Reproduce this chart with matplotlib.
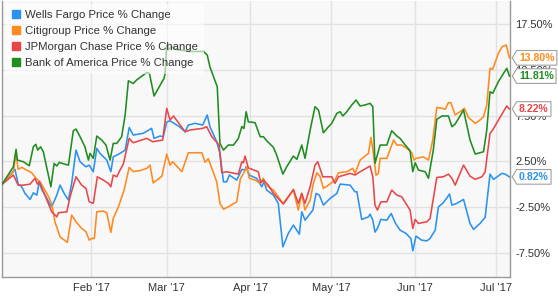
import numpy as np
import pandas as pd
import matplotlib
matplotlib.use("Agg")
import matplotlib.pyplot as plt
import matplotlib.dates as mdates
from matplotlib.path import Path
from matplotlib.lines import Line2D


# days counted from 2016-12-30, value = % price change
start_date = "2016-12-30"

wfc_days = [0, 3.0, 4.8, 6.0, 7.3, 8.5, 10.4, 11.6, 12.9, 13.8, 14.7, 16.6, 18.4, 20.3, 21.5, 23.0, 24.6, 25.8,
            27.4, 28.9, 31.1, 32.3, 33.8, 35.1, 36.3, 38.8, 40.3, 41.2, 43.7, 45.6, 47.1, 48.6, 52.3, 55.4,
            56.3, 58.5, 59.7, 61.0, 62.2, 65.7, 67.8, 69.0, 71.5, 74.3, 76.0, 77.0, 79.5, 80.7, 82.0, 83.2,
            84.2, 86.9, 88.8, 90.0, 90.4, 91.6, 94.3, 96.2, 97.0, 98.0, 100.5, 102.3, 104.0, 106.0, 107.9,
            110.1, 111.0, 112.2, 115.1, 116.3, 117.5, 119.0, 121.5, 124.0, 125.2, 128.9, 130.7, 131.4, 133.2,
            135.7, 136.3, 137.3, 138.1, 139.0, 140.3, 142.5, 144.1, 145.6, 147.4, 149.6, 151.4, 152.1, 153.3,
            155.4, 157.3, 158.5, 160.4, 161.6, 163.4, 165.7, 166.6, 168.4, 170.9, 173.3, 174.6, 177.0, 178.9,
            180.7, 182.0, 185.1, 186.3, 187.9]
wfc_pct = [0, 1.02, 1.64, 0.03, -0.26, -0.98, -1.64, -0.92, -1.17, 0.28, -0.55, -1.53, -2.45, -1.17, -0.08,
           -0.98, -1.71, 0.11, 3.74, 2.47, 1.92, 2.10, 1.38, 3.93, 3.38, 2.65, 1.38, 3.00, 3.38, 3.74, 6.20,
           5.38, 5.57, 6.11, 5.02, 5.27, 5.20, 6.80, 6.94, 6.29, 5.74, 6.47, 6.66, 6.47, 7.57, 6.29, 4.65,
           3.38, 0.28, 0.28, 1.02, 0.47, 1.64, 1.56, 1.92, 1.00, 0.66, -0.26, 0.28, -0.62, -1.17, -2.07,
           -6.81, -5.35, -4.44, -5.43, -2.99, -3.90, -2.81, -0.98, -1.17, -2.26, -1.53, -0.98, 0.03, -0.08,
           -0.81, -0.81, -3.82, -3.54, -3.24, -3.90, -5.20, -4.80, -3.82, -3.90, -3.17, -4.19, -4.99, -5.35,
           -5.90, -7.25, -5.64, -6.08, -6.16, -5.90, -4.99, -2.45, -2.00, -1.06, -2.26, -2.07, -1.64, -4.26,
           -4.91, -4.26, -3.60, 1.12, 0.55, 1.20, 1.12, 0.82]

c_days = [0, 4.2, 5.2, 6.0, 7.3, 9.1, 11.0, 12.6, 14.1, 16.6, 18.4, 19.6, 21.5, 24.2, 25.8, 27.4, 29.5, 31.1,
          32.3, 33.2, 34.2, 35.1, 37.5, 38.8, 40.3, 41.2, 43.1, 45.2, 47.1, 48.6, 51.1, 53.6, 54.8, 56.0,
          59.2, 61.0, 62.2, 63.2, 66.6, 69.0, 74.0, 75.2, 76.4, 79.5, 80.7, 82.0, 83.8, 86.9, 88.3, 89.4,
          90.6, 91.6, 93.7, 95.6, 96.8, 97.8, 100.5, 102.3, 104.0, 106.0, 107.9, 109.7, 111.0, 112.2, 114.1,
          115.3, 116.6, 117.8, 119.0, 120.9, 123.3, 124.6, 127.7, 129.9, 130.7, 132.6, 135.7, 136.6, 137.5,
          138.5, 139.4, 140.0, 142.5, 145.0, 146.2, 148.0, 149.9, 151.7, 152.6, 153.3, 156.0, 157.9, 159.5,
          161.0, 162.9, 164.1, 165.3, 166.2, 167.8, 169.6, 171.2, 172.7, 175.2, 177.0, 178.3, 179.5, 180.7,
          181.7, 183.8, 185.1, 186.7, 187.9]
c_pct = [0, 1.38, 3.38, 1.64, 1.86, 1.56, 1.27, 0.66, 0.28, -0.98, -2.07, -4.08, -5.72, -6.33, -3.35, -4.08,
         -4.80, -5.17, -6.08, -5.90, -5.90, -2.99, -2.91, -3.10, -5.24, -3.71, -2.45, -0.62, 1.85, 1.40, 1.50,
         1.75, 2.10, 0.15, 0.90, 3.30, 2.10, 2.47, 1.38, 3.45, 3.45, 2.40, 2.80, 0.28, -2.07, -2.70, -2.45,
         -1.90, 0.65, 1.20, 1.92, 0.66, 0.47, 0.11, 0.66, -0.08, -0.62, -1.35, -2.07, -1.35, -0.62, -2.80,
         -0.98, -2.80, -1.71, 0.11, 1.27, 0.83, -0.44, -0.08, 0.47, 1.27, 1.38, 1.75, 1.20, 2.65, 3.38, 5.13,
         3.40, 1.00, 1.20, 2.84, 2.84, 4.84, 4.29, 4.29, 3.93, 3.45, 2.65, 2.84, 3.00, 2.65, 4.84, 8.40, 8.30,
         8.19, 8.91, 8.91, 7.57, 7.93, 8.30, 7.31, 6.66, 7.02, 7.38, 8.66, 12.66, 12.55, 14.30, 15.00, 15.20,
         13.80]

jpm_days = [0, 4.2, 6.0, 7.9, 10.4, 12.2, 13.1, 13.8, 15.9, 18.4, 20.3, 20.9, 24.0, 25.2, 27.4, 29.5, 31.1,
            32.3, 33.8, 35.3, 37.5, 39.4, 40.3, 41.2, 42.5, 43.7, 44.9, 47.1, 48.6, 53.6, 55.8, 59.5, 61.0,
            62.2, 63.5, 67.8, 69.6, 74.3, 75.8, 77.7, 80.4, 81.4, 83.2, 87.5, 88.8, 89.4, 90.0, 91.2, 94.9,
            95.8, 96.8, 98.6, 100.5, 104.2, 107.9, 109.7, 111.0, 112.2, 114.1, 115.9, 116.9, 118.8, 122.1,
            123.3, 124.6, 128.9, 130.7, 132.6, 136.3, 137.3, 138.1, 139.0, 140.3, 142.5, 144.3, 146.2, 148.0,
            151.1, 152.1, 153.0, 154.2, 157.3, 158.5, 161.0, 163.4, 165.3, 166.6, 167.8, 170.9, 173.3, 175.2,
            177.7, 178.9, 180.7, 181.7, 184.4, 186.9, 187.9]
jpm_pct = [0, 1.02, -0.08, -0.08, 0.03, 0.66, 0.03, 0.28, -1.17, -2.99, -3.54, -3.10, -2.99, -1.35, 0.83,
           -0.08, -0.44, -1.90, -2.07, 0.83, 0.47, 0.11, -0.26, 1.02, 0.83, 1.56, 2.20, 5.02, 4.54, 5.02, 4.65,
           4.84, 8.30, 7.02, 7.46, 5.74, 5.93, 6.11, 6.29, 5.20, 4.29, 1.27, 1.38, 1.12, 2.47, 2.36, 3.09, 1.80,
           1.38, 0.17, 0.47, -0.08, -0.98, -2.15, -0.55, -2.07, -0.98, -2.07, -0.26, 2.10, 2.47, 0.83, 0.83,
           0.11, 0.83, 1.20, 1.02, 1.38, 2.00, 0.83, -2.26, -2.80, -1.90, -1.90, -0.62, -1.17, -1.35, -2.80,
           -4.80, -3.82, -4.26, -4.08, -3.71, 0.76, 0.83, 1.12, 0.66, -0.08, 2.10, 0.90, 0.55, 0.83, 1.38,
           5.57, 5.93, 7.31, 8.55, 8.22]

bac_days = [0, 4.2, 5.2, 5.7, 7.9, 10.1, 11.6, 12.5, 13.2, 14.3, 15.3, 18.1, 19.3, 20.3, 21.2, 23.3, 24.6,
            26.4, 27.4, 28.9, 30.7, 32.0, 32.6, 33.8, 35.1, 36.9, 38.5, 40.0, 41.2, 42.5, 44.3, 45.6, 46.8,
            48.6, 49.9, 53.6, 54.6, 56.3, 60.0, 60.4, 61.0, 61.6, 62.9, 64.7, 69.6, 74.6, 76.0, 77.0, 79.7,
            80.7, 82.0, 83.8, 85.7, 87.5, 88.8, 89.6, 90.4, 91.2, 93.7, 95.6, 96.8, 98.0, 100.5, 101.7, 104.0,
            105.4, 107.9, 109.2, 111.0, 112.2, 114.1, 115.9, 117.2, 119.0, 120.9, 122.1, 124.0, 125.2, 126.2,
            127.7, 129.5, 131.1, 132.6, 134.4, 136.3, 137.3, 138.1, 140.0, 142.5, 144.3, 146.2, 147.4, 149.3,
            151.1, 152.1, 153.0, 154.2, 156.7, 157.9, 159.7, 161.0, 162.9, 165.3, 166.6, 167.8, 170.9, 173.3,
            175.2, 178.3, 179.5, 180.7, 181.7, 183.8, 185.7, 186.9, 187.9]
bac_pct = [0, 1.92, 3.82, 2.65, 2.47, 2.03, 4.10, 4.37, 3.74, 4.10, 3.56, -0.26, 2.29, 2.00, 2.40, 2.20, 2.10,
           5.85, 6.04, 5.20, 4.10, 2.65, 3.38, 2.84, 5.27, 4.84, 4.29, 2.65, 4.47, 4.47, 5.20, 7.57, 11.30,
           11.00, 11.40, 12.20, 12.10, 9.64, 11.57, 12.10, 15.20, 14.70, 15.00, 14.70, 14.50, 14.50, 14.10,
           12.80, 10.65, 4.47, 3.74, 4.29, 4.29, 5.00, 6.30, 6.10, 7.93, 6.83, 6.73, 5.20, 5.20, 4.76, 4.04,
           3.20, 1.12, 1.92, 3.09, 2.73, 4.29, 2.84, 5.93, 8.47, 8.10, 5.63, 6.29, 6.66, 7.75, 7.93, 7.46, 7.93,
           8.66, 9.20, 8.55, 8.66, 8.84, 8.47, 2.29, 4.29, 4.29, 5.85, 5.27, 5.02, 4.29, 3.67, 1.38, 2.36, 1.56,
           1.38, 0.66, 3.74, 7.10, 7.46, 7.46, 6.29, 6.58, 8.11, 4.84, 3.31, 3.56, 5.93, 10.10, 9.93, 11.20,
           12.10, 12.66, 11.81]

series_names = ["Wells Fargo Price % Change", "Citigroup Price % Change",
                "JPMorgan Chase Price % Change", "Bank of America Price % Change"]
series_days = [wfc_days, c_days, jpm_days, bac_days]
series_pct = [wfc_pct, c_pct, jpm_pct, bac_pct]
colors = ["#2b92f0", "#ff8a1f", "#e8474a", "#1f8d1f"]

y_ticks = [-7.5, -2.5, 2.5, 7.5, 12.5, 17.5]


def tag_box(x0, y0, width, height, mutation_size):
    # label box with a small pointer on the left side
    pad = 0.22 * mutation_size
    x0, y0 = x0 - pad, y0 - pad
    x1, y1 = x0 + width + 2 * pad, y0 + height + 2 * pad
    ym = (y0 + y1) / 2
    tip = 0.3 * (y1 - y0)
    verts = [(x0 - tip, ym), (x0, y1), (x1, y1), (x1, y0), (x0, y0), (x0 - tip, ym)]
    codes = [Path.MOVETO] + [Path.LINETO] * 4 + [Path.CLOSEPOLY]
    return Path(verts, codes)


plt.rcParams["font.family"] = ["Liberation Sans", "DejaVu Sans"]

W, H = 558, 296
fig = plt.figure(figsize=(W / 100, H / 100), dpi=100)
ax = fig.add_axes([2 / W, 19 / H, 508 / W, 276 / H])
ax.set_facecolor("#f8f8f8")

t0 = pd.Timestamp(start_date)
for name, days, pct, col in zip(series_names, series_days, series_pct, colors):
    dates = t0 + pd.to_timedelta(np.array(days), unit="D")
    ax.plot(dates, pct, color=col, lw=1.15, label=name, zorder=3)

ax.set_xlim(t0, t0 + pd.Timedelta(days=188.1))
ax.set_ylim(-10.1, 20.0)

ax.xaxis.set_major_locator(mdates.MonthLocator(bymonth=range(2, 8)))
ax.xaxis.set_major_formatter(mdates.DateFormatter("%b '%y"))
ax.set_yticks(y_ticks)
ax.set_yticklabels([f"{v:.2f}%" for v in y_ticks])
ax.yaxis.tick_right()
ax.tick_params(length=0, labelsize=8, colors="#333333")
ax.tick_params(axis="y", pad=4)
ax.tick_params(axis="x", pad=4)
ax.grid(True, color="#e2e2e2", lw=1)
ax.set_axisbelow(True)

for side in ["left", "bottom", "right"]:
    ax.spines[side].set_color("#9a9a9a")
    ax.spines[side].set_linewidth(1)
ax.spines["top"].set_visible(False)

# end value labels
for days, pct, col in zip(series_days, series_pct, colors):
    last = pct[-1]
    ax.annotate(f"{last:.2f}%", xy=(1, last), xycoords=ax.get_yaxis_transform(),
                xytext=(9, 0), textcoords="offset pixels", ha="left", va="center",
                fontsize=7.6, fontweight="bold", color=col, zorder=6, annotation_clip=False,
                bbox=dict(boxstyle=tag_box, fc="white", ec="#a0a0a0", lw=0.8))

handles = [Line2D([], [], ls="none", marker="s", ms=5.2, color=c) for c in colors]
leg = ax.legend(handles, series_names, loc="upper left", bbox_to_anchor=(0.0, 1.0),
                frameon=True, fontsize=8.2, handlelength=0.8, handletextpad=0.45,
                labelspacing=0.52, borderpad=0.5, borderaxespad=0.3)
leg.get_frame().set_facecolor("white")
leg.get_frame().set_alpha(0.6)
leg.get_frame().set_edgecolor("none")
leg.get_frame().set_boxstyle("square", pad=0)
for txt in leg.get_texts():
    txt.set_color("#333333")

fig.savefig("out.png", dpi=100)
